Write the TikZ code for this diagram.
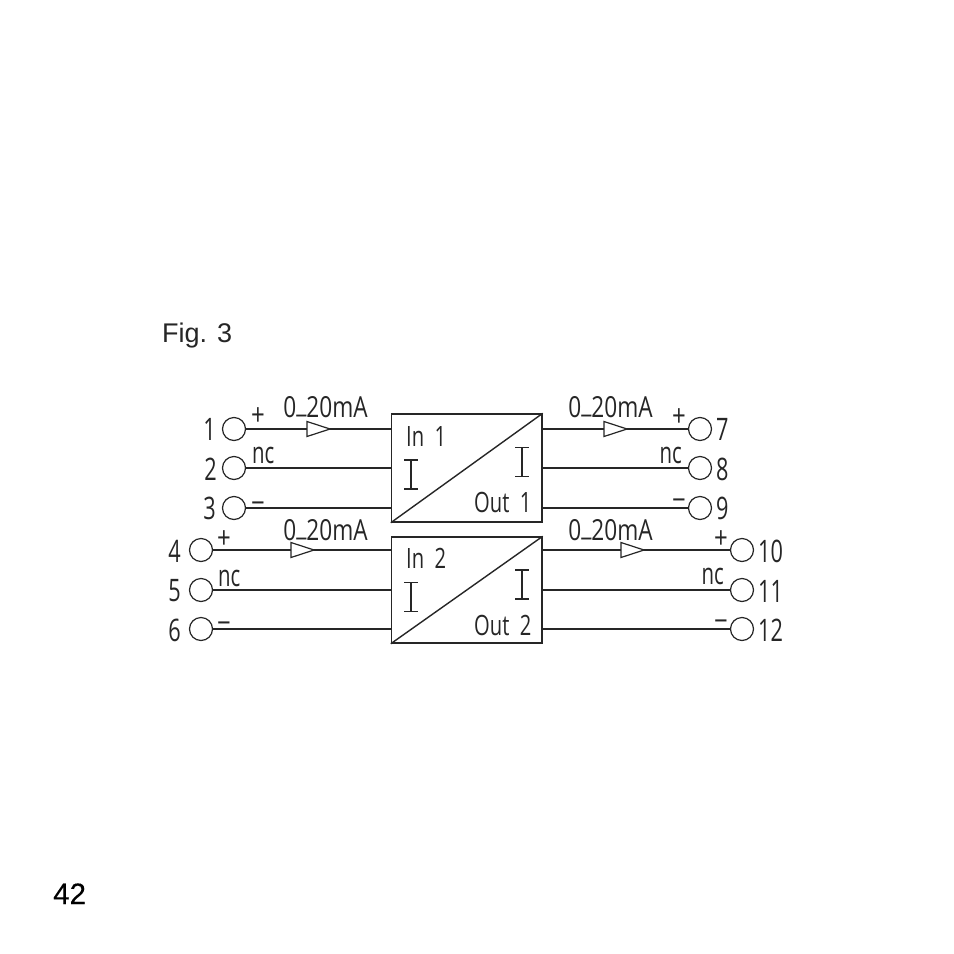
\documentclass[tikz,border=0pt]{standalone}
\usepackage{fontspec}
\setmainfont{Liberation Sans}
\newfontfamily\isofont{Open Sans}
\newfontfamily\medfont[FakeBold=0.25]{Liberation Sans}
\usetikzlibrary{calc}
\newcommand{\isotext}[3]{\scalebox{#2}[1]{\fontsize{#1}{#1}\selectfont\isofont #3}}
\tikzset{
  x=1pt,y=-1pt,
  wire/.style={draw=black!85,line width=1.3pt},
  terminal/.style={circle,draw=black!85,line width=1.2pt,minimum size=23pt,inner sep=0pt},
  conv/.style={rectangle,draw=black!85,line width=1.4pt,minimum width=150.5pt,inner sep=0pt},
  lab/.style={inner sep=0pt,text=black!85},
  tri/.style={draw=black!85,line width=1.2pt,fill=white,line join=miter},
  iso/.style={draw=black!85,line width=1.2pt}
}
\newcommand{\flowtri}[2]{\draw[tri] (#1,#2-7.5) -- (#1+23,#2) -- (#1,#2+7.5) -- cycle;}
\newcommand{\Ibar}[2]{\draw[iso] (#1-7,#2-14.5) -- (#1+7,#2-14.5) (#1,#2-14.5) -- (#1,#2+14.5) (#1-7,#2+14.5) -- (#1+7,#2+14.5);}
\newcommand{\numtxt}[1]{\isotext{31}{0.7}{#1}}
\newcommand{\polar}[1]{\isotext{30}{0.8}{#1}}
\newcommand{\nctxt}{\isotext{30}{0.68}{nc}}
\newcommand{\curtxt}{\isotext{29}{0.78}{0\raisebox{5pt}{\_}20mA}}
\newcommand{\boxtxt}[1]{\isotext{28}{0.72}{#1}}
\begin{document}
\begin{tikzpicture}
\useasboundingbox (0,0) rectangle (954,954);
\fill[white] (0,0) rectangle (954,954);
% converter boxes
\node[conv,minimum height=108pt] (boxA) at (466.75,468) {};
\node[conv,minimum height=106pt] (boxB) at (466.75,590) {};
\draw[iso,line width=1.4pt] (boxA.south west) -- (boxA.north east);
\draw[iso,line width=1.4pt] (boxB.south west) -- (boxB.north east);
% terminals
\node[terminal] (t1) at (234,429) {};
\node[terminal] (t2) at (234,468) {};
\node[terminal] (t3) at (234,508) {};
\node[terminal] (t4) at (201,550) {};
\node[terminal] (t5) at (201,590) {};
\node[terminal] (t6) at (201,629) {};
\node[terminal] (t7) at (700,429) {};
\node[terminal] (t8) at (700,468) {};
\node[terminal] (t9) at (700,508) {};
\node[terminal] (t10) at (742,550) {};
\node[terminal] (t11) at (742,590) {};
\node[terminal] (t12) at (742,629) {};
% wires
\foreach \t in {t1,t2,t3} \draw[wire] (\t.east) -- (boxA.west |- \t.east);
\foreach \t in {t4,t5,t6} \draw[wire] (\t.east) -- (boxB.west |- \t.east);
\foreach \t in {t7,t8,t9} \draw[wire] (\t.west) -- (boxA.east |- \t.west);
\foreach \t in {t10,t11,t12} \draw[wire] (\t.west) -- (boxB.east |- \t.west);
% flow triangles
\flowtri{307}{429}
\flowtri{604}{429}
\flowtri{291}{550}
\flowtri{621}{550}
% I symbols
\Ibar{411}{474.5}
\Ibar{522}{462}
\Ibar{411}{597}
\Ibar{522}{584.5}
% terminal numbers
\node[lab,anchor=east] (n1) at (216,429) {\numtxt{1}};
\node[lab,anchor=east] (n2) at (217,469) {\numtxt{2}};
\node[lab,anchor=east] (n3) at (216,508) {\numtxt{3}};
\node[lab,anchor=east] (n4) at (181,551) {\numtxt{4}};
\node[lab,anchor=east] (n5) at (181,591) {\numtxt{5}};
\node[lab,anchor=east] (n6) at (181,630) {\numtxt{6}};
\node[lab,anchor=west] (n7) at (716,429) {\numtxt{7}};
\node[lab,anchor=west] (n8) at (716,469) {\numtxt{8}};
\node[lab,anchor=west] (n9) at (716,508) {\numtxt{9}};
\node[lab,anchor=west] (n10) at (758,551) {\numtxt{10}};
\node[lab,anchor=west] (n11) at (758,591) {\numtxt{11}};
\node[lab,anchor=west] (n12) at (758,630) {\numtxt{12}};
% polarity
\node[lab,anchor=base] (p1) at (258,425) {\polar{+}};
\node[lab,anchor=base west] (c1) at (252,463) {\nctxt};
\node[lab,anchor=base] (m1) at (258,513) {\polar{−}};
\node[lab,anchor=base] (p2) at (224,548) {\polar{+}};
\node[lab,anchor=base west] (c2) at (218,586) {\nctxt};
\node[lab,anchor=base] (m2) at (224,633) {\polar{−}};
\node[lab,anchor=base] (p3) at (679,426) {\polar{+}};
\node[lab,anchor=base east] (c3) at (682,463) {\nctxt};
\node[lab,anchor=base] (m3) at (679,510) {\polar{−}};
\node[lab,anchor=base] (p4) at (721,548) {\polar{+}};
\node[lab,anchor=base east] (c4) at (724,584) {\nctxt};
\node[lab,anchor=base] (m4) at (721,631) {\polar{−}};
% currents
\node[lab,anchor=base] (i1) at (325.5,417) {\curtxt};
\node[lab,anchor=base] (i2) at (610.5,417) {\curtxt};
\node[lab,anchor=base] (i3) at (325.5,540) {\curtxt};
\node[lab,anchor=base] (i4) at (610.5,540) {\curtxt};
% box labels
\node[lab,anchor=base west] (la) at (406,446) {\boxtxt{In\ \ 1}};
\node[lab,anchor=base west] (lb) at (474,512) {\boxtxt{Out\ \ 1}};
\node[lab,anchor=base west] (lc) at (406,568) {\boxtxt{In\ \ 2}};
\node[lab,anchor=base west] (ld) at (474,635) {\boxtxt{Out\ \ 2}};
% captions
\node[lab,anchor=base west] (fig) at (162,342) {\fontsize{27}{27}\selectfont Fig. 3};
\node[lab,anchor=base west,text=black] (pg) at (53,904) {\fontsize{29.5}{29.5}\selectfont\medfont 42};
\end{tikzpicture}
\end{document}
